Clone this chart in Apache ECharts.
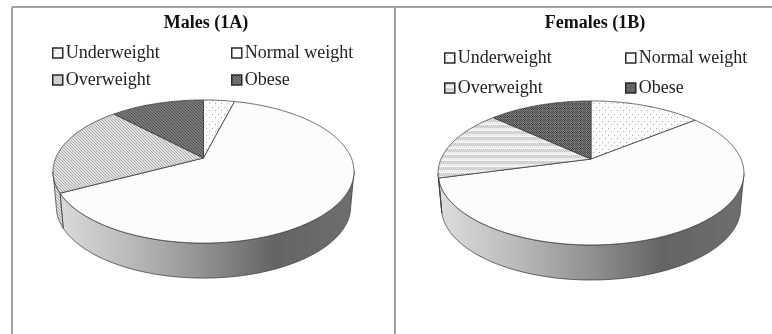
<!DOCTYPE html>
<html>
<head>
<meta charset="utf-8">
<style>
  html, body { margin: 0; padding: 0; background: #fff; }
  #chart { width: 772px; height: 334px; }
</style>
</head>
<body>
<div id="chart"></div>
<script src="https://cdn.jsdelivr.net/npm/echarts@6/dist/echarts.min.js"></script>
<script>
const categories = ['Underweight', 'Normal weight', 'Overweight', 'Obese']
// percent shares
const malesValues = [4, 63.3, 20.6, 12.1]
const femalesValues = [14.2, 56.6, 16, 13.2]

// small tile patterns, one char per pixel
const shades = { w: '#ffffff', f: '#f6f6f6', l: '#e2e2e2', m: '#c4c4c4', g: '#a8a8a8', d: '#505050', k: '#7c7c7c', b: '#444444' }
function tile(rows) {
  const canvas = document.createElement('canvas')
  canvas.width = rows[0].length
  canvas.height = rows.length
  const ctx = canvas.getContext('2d')
  rows.forEach((row, y) => {
    row.split('').forEach((c, x) => {
      ctx.fillStyle = shades[c]
      ctx.fillRect(x, y, 1, 1)
    })
  })
  return { image: canvas, repeat: 'repeat' }
}
const sparseDots = tile(['wwwwff', 'wwwwff', 'wwgwww', 'wwwwww', 'ffwwww', 'wfwwwg', 'wwwwww'])
const plain = '#fcfcfc'
const diagHatch = tile(['gll', 'lgl', 'llg'])
const bandHatch = tile(['lmlm', 'mlml', 'flfl', 'lflf', 'ffff', 'lmlm'])
const darkHatch = tile(['dkk', 'kdk', 'kkd'])
const darkDots = tile(['bkbk', 'kbkb', 'bkkk', 'kbkb'])

const panels = [
  {
    title: 'Males (1A)', titleX: 206, values: malesValues,
    fills: [sparseDots, plain, diagHatch, darkHatch],
    ax: 203.5, ay: 158, R: 147.8, H: 69, k: 0.189, depth: 35, shrink: 0.978, cy: 171.5,
    rows: [52, 79], cols: [[52], [231]]
  },
  {
    title: 'Females (1B)', titleX: 595, values: femalesValues,
    fills: [sparseDots, plain, bandHatch, darkDots],
    ax: 591, ay: 159, R: 150, H: 69.3, k: 0.194, depth: 35, shrink: 0.978, cy: 173,
    rows: [57, 87], cols: [[444], [625]]
  }
]

// disc angle (deg, clockwise from the back) to a point on the rim
function rim(p, deg) {
  const t = deg * Math.PI / 180
  const u = Math.sin(t)
  const v = -Math.cos(t)
  const w = 1 - p.k * v
  return [p.ax + p.R * u / w, p.ay + p.H * v / w]
}

function sliceItem(p, i) {
  const total = p.values.reduce((a, b) => a + b, 0)
  const before = p.values.slice(0, i).reduce((a, b) => a + b, 0)
  const start = before / total * 360
  const end = (before + p.values[i]) / total * 360

  const topPts = [[p.ax, p.ay]]
  const wallTop = []
  for (let d = start; ; d += 0.5) {
    const deg = Math.min(d, end)
    const pt = rim(p, deg)
    topPts.push(pt)
    if (pt[1] >= p.cy) wallTop.push(pt)
    if (deg >= end) break
  }

  const children = []
  if (wallTop.length > 1) {
    const wallBottom = wallTop.map(pt => [p.ax + (pt[0] - p.ax) * p.shrink, pt[1] + p.depth]).reverse()
    const wallFill = i === 2 ? p.fills[i] : new echarts.graphic.LinearGradient(
      p.ax - p.R, 0, p.ax + p.R, 0,
      [
        { offset: 0, color: '#dcdcdc' },
        { offset: 0.25, color: '#bababa' },
        { offset: 0.5, color: '#919191' },
        { offset: 0.74, color: '#646464' },
        { offset: 1, color: '#6e6e6e' }
      ],
      true
    )
    children.push({
      type: 'polygon',
      shape: { points: wallTop.concat(wallBottom) },
      style: { fill: wallFill, stroke: '#3c3c3c', lineWidth: 0.8 }
    })
  }
  children.push({
    type: 'polygon',
    shape: { points: topPts },
    style: { fill: p.fills[i], stroke: '#3c3c3c', lineWidth: 0.8 }
  })
  return { type: 'group', children }
}

const series = []
const legends = []
panels.forEach(p => {
  categories.forEach((name, i) => {
    series.push({
      type: 'custom',
      name,
      coordinateSystem: 'none',
      data: [p.values[i]],
      itemStyle: { color: p.fills[i] },
      silent: true,
      renderItem: () => sliceItem(p, i)
    })
    legends.push({
      left: p.cols[i % 2][0],
      top: p.rows[Math.floor(i / 2)] - 8,
      itemWidth: 10,
      itemHeight: 10,
      selectedMode: false,
      padding: 0,
      itemStyle: { color: p.fills[i], borderColor: '#2a2a2a', borderWidth: 1.5 },
      textStyle: { fontFamily: 'Liberation Serif', fontSize: 18, color: '#222', padding: [3, 0, 0, -2] },
      data: [{ name, icon: 'rect' }]
    })
  })
})

const chart = echarts.init(document.getElementById('chart'), null, { renderer: 'canvas' })
chart.setOption({
  animation: false,
  backgroundColor: '#fff',
  title: panels.map(p => ({
    text: p.title,
    left: p.titleX,
    top: 14,
    textAlign: 'center',
    padding: 0,
    textStyle: { fontFamily: 'Liberation Serif', fontWeight: 'bold', fontSize: 18, color: '#111' }
  })),
  legend: legends,
  series,
  graphic: [
    { type: 'line', silent: true, shape: { x1: 12, y1: 7, x2: 772, y2: 7 }, style: { stroke: '#a2a2a2', lineWidth: 2 } },
    { type: 'line', silent: true, shape: { x1: 12, y1: 7, x2: 12, y2: 334 }, style: { stroke: '#a2a2a2', lineWidth: 2 } },
    { type: 'line', silent: true, shape: { x1: 395, y1: 7, x2: 395, y2: 334 }, style: { stroke: '#a2a2a2', lineWidth: 2 } }
  ]
})
</script>
</body>
</html>
